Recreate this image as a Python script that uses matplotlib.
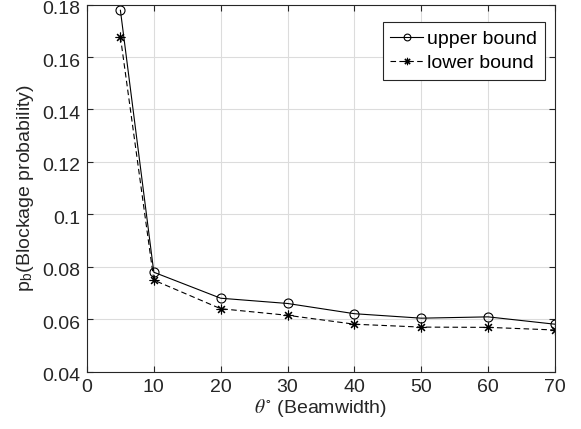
import numpy as np
import matplotlib.pyplot as plt
import matplotlib.transforms as mtransforms

plt.rcParams['font.family'] = ['Liberation Sans', 'DejaVu Sans']
plt.rcParams['mathtext.fontset'] = 'stix'

# beamwidth (degrees) and blockage probabilities
beamwidth = [5, 10, 20, 30, 40, 50, 60, 70]
upper_bound = [0.1778, 0.0780, 0.0681, 0.0661, 0.0622, 0.0605, 0.0610, 0.0582]
lower_bound = [0.1677, 0.0750, 0.0641, 0.0616, 0.0582, 0.0571, 0.0570, 0.0560]

fig = plt.figure(figsize=(5.81, 4.29), dpi=100)
ax = fig.add_axes([0.1497, 0.1329, 0.8055, 0.8566])

ax.plot(beamwidth, upper_bound, '-', color='k', lw=0.8, marker='o',
        mfc='none', mec='k', ms=6.5, mew=0.8, label='upper bound')
ax.plot(beamwidth, lower_bound, '--', color='k', lw=0.8, marker=(8, 2, 0),
        ms=7, mew=0.8, label='lower bound', dashes=(5, 3))

ax.set_xlim(0, 70)
ax.set_ylim(0.04, 0.18)
ax.set_xticks(np.arange(0, 71, 10))
ax.set_yticks(np.arange(0.04, 0.181, 0.02))
ax.set_yticklabels(['0.04', '0.06', '0.08', '0.1', '0.12', '0.14', '0.16', '0.18'])
ax.grid(True, color='#dcdcdc', lw=0.8)
ax.set_axisbelow(True)
ax.tick_params(direction='in', top=True, right=True, labelsize=14,
               length=4, width=0.8, pad=5, color='#262626', labelcolor='#262626')
for s in ax.spines.values():
    s.set_linewidth(0.8)
    s.set_color('#262626')

# y tick labels sit a few pixels low, like the original
shift = mtransforms.ScaledTranslation(0, -3 / 100, fig.dpi_scale_trans)
for lbl in ax.get_yticklabels():
    lbl.set_transform(lbl.get_transform() + shift)

ax.set_xlabel(r'$\theta^{\circ}$ (Beamwidth)', fontsize=14, color='#262626', labelpad=1)
ax.set_ylabel(r'p$_{\mathregular{b}}$(Blockage probability)', fontsize=14,
              color='#262626', labelpad=4)

leg = ax.legend(loc='upper right', bbox_to_anchor=(0.979, 0.952), fontsize=14,
                fancybox=False, edgecolor='#262626', framealpha=1,
                handlelength=1.7, handletextpad=0.2, borderpad=0.4,
                labelspacing=0.35, borderaxespad=0, markerscale=0.75)
leg.get_frame().set_linewidth(0.8)

fig.savefig('out.png', dpi=100)
